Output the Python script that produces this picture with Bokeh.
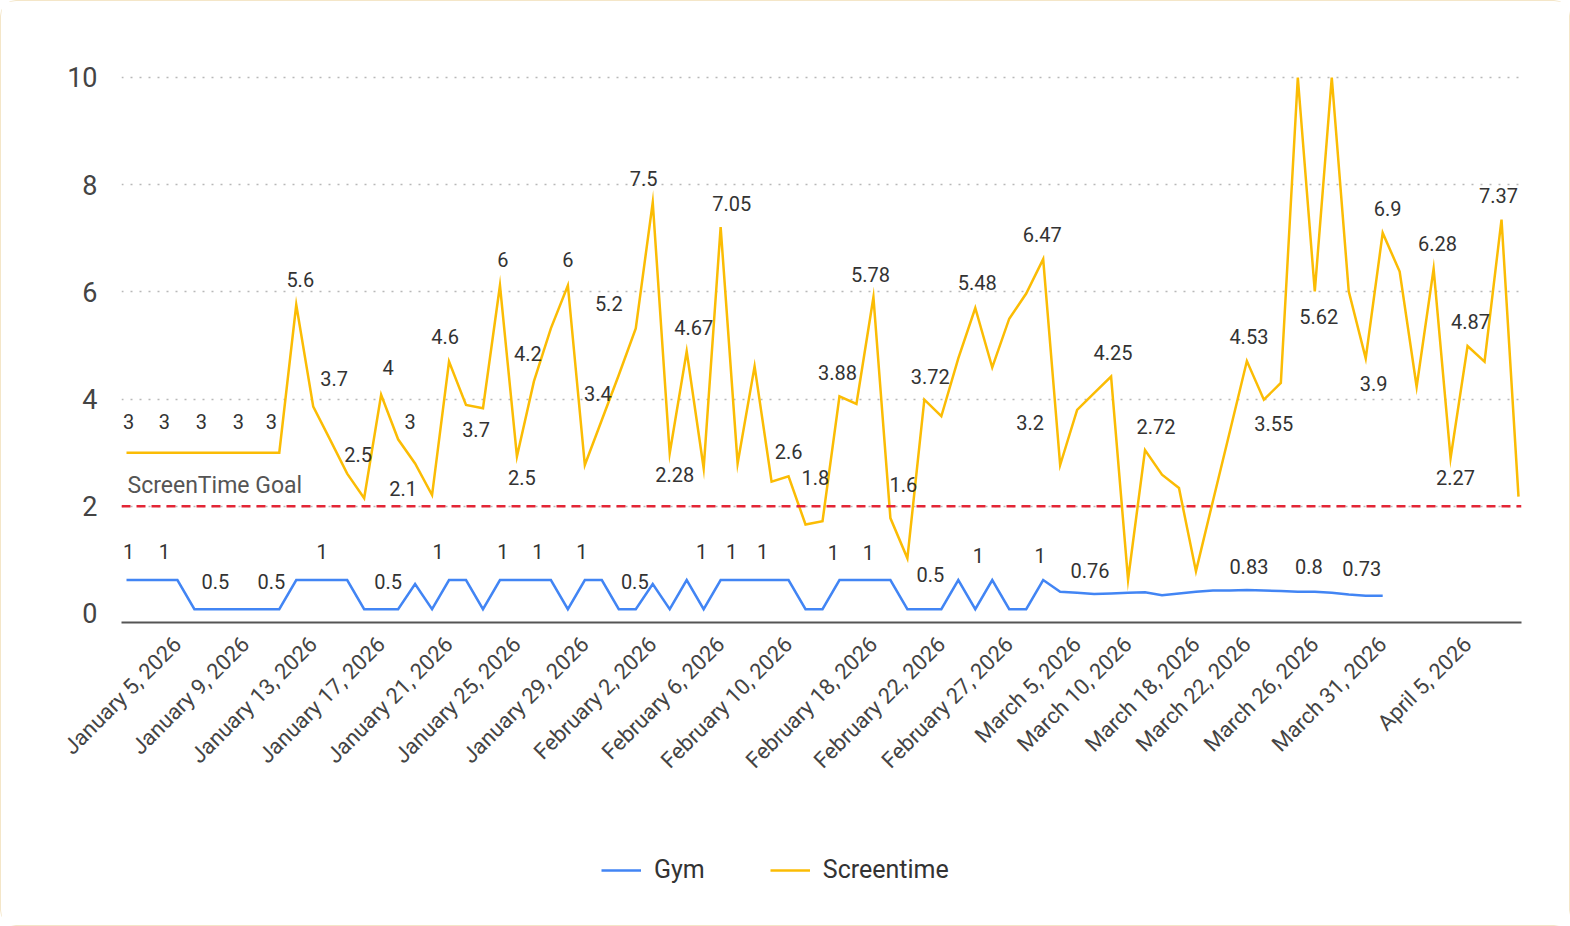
from math import pi, nan
from datetime import datetime
from bokeh.plotting import figure
from bokeh.layouts import column
from bokeh.models import (Range1d, FixedTicker, ColumnDataSource, Span, Label,
                          LabelSet, Legend, LegendItem)
from bokeh.embed import file_html
from bokeh.resources import INLINE
from bokeh.core.properties import value

# ---------------- data ----------------
dates = [
    "2026-01-02", "2026-01-03", "2026-01-04", "2026-01-05", "2026-01-06", "2026-01-07",
    "2026-01-08", "2026-01-09", "2026-01-10", "2026-01-11", "2026-01-12", "2026-01-13",
    "2026-01-14", "2026-01-15", "2026-01-16", "2026-01-17", "2026-01-18", "2026-01-19",
    "2026-01-20", "2026-01-21", "2026-01-22", "2026-01-23", "2026-01-24", "2026-01-25",
    "2026-01-26", "2026-01-27", "2026-01-28", "2026-01-29", "2026-01-30", "2026-01-31",
    "2026-02-01", "2026-02-02", "2026-02-03", "2026-02-04", "2026-02-05", "2026-02-06",
    "2026-02-07", "2026-02-08", "2026-02-09", "2026-02-10", "2026-02-11", "2026-02-12",
    "2026-02-14", "2026-02-16", "2026-02-18", "2026-02-19", "2026-02-20", "2026-02-21",
    "2026-02-22", "2026-02-23", "2026-02-24", "2026-02-26", "2026-02-27", "2026-02-28",
    "2026-03-02", "2026-03-03", "2026-03-05", "2026-03-06", "2026-03-08", "2026-03-10",
    "2026-03-12", "2026-03-14", "2026-03-16", "2026-03-18", "2026-03-19", "2026-03-20",
    "2026-03-22", "2026-03-23", "2026-03-24", "2026-03-25", "2026-03-26", "2026-03-27",
    "2026-03-28", "2026-03-30", "2026-03-31", "2026-04-01", "2026-04-02", "2026-04-03",
    "2026-04-04", "2026-04-05", "2026-04-06", "2026-04-07", "2026-04-08",
]

screentime = [
    3.0, 3.0, 3.0, 3.0, 3.0, 3.0, 3.0, 3.0, 3.0, 3.0,
    5.76, 3.86, 3.24, 2.61, 2.15, 4.08, 3.25, 2.80, 2.21, 4.70,
    3.89, 3.83, 6.12, 2.93, 4.33, 5.32, 6.12, 2.77, 3.61, 4.45,
    5.32, 7.67, 2.99, 4.89, 2.71, 7.21, 2.80, 4.61, 2.46, 2.56,
    1.66, 1.72, 4.05, 3.91, 5.90, 1.78, 1.03, 3.99, 3.68, 4.76,
    5.70, 4.59, 5.50, 5.97, 6.61, 2.77, 3.80, 4.11, 4.42, 0.63,
    3.05, 2.59, 2.34, 0.79, 2.10, 3.40, 4.71, 3.99, 4.30, 10.0,
    6.01, 10.0, 6.01, 4.76, 7.10, 6.38, 4.23, 6.43, 2.90, 4.99,
    4.70, 7.35, 2.18,
]

gym = [
    1, 1, 1, 1, 0.5, 0.5, 0.5, 0.5, 0.5, 0.5,
    1, 1, 1, 1, 0.5, 0.5, 0.5, 0.93, 0.5, 1,
    1, 0.5, 1, 1, 1, 1, 0.5, 1, 1, 0.5,
    0.5, 0.93, 0.5, 1, 0.5, 1, 1, 1, 1, 1,
    0.5, 0.5, 1, 1, 1, 1, 0.5, 0.5, 0.5, 1,
    0.5, 1, 0.5, 0.5, 1, 0.8, 0.78, 0.76, 0.77, 0.78,
    0.79, 0.74, 0.77, 0.8, 0.82, 0.82, 0.83, 0.82, 0.81, 0.8,
    0.8, 0.78, 0.75, 0.73, 0.73,
]

screentime_goal = 2.0

tick_dates = [
    "2026-01-05", "2026-01-09", "2026-01-13", "2026-01-17", "2026-01-21",
    "2026-01-25", "2026-01-29", "2026-02-02", "2026-02-06", "2026-02-10",
    "2026-02-18", "2026-02-22", "2026-02-27", "2026-03-05", "2026-03-10",
    "2026-03-18", "2026-03-22", "2026-03-26", "2026-03-31", "2026-04-05",
]

y_ticks = [0, 2, 4, 6, 8, 10]

# data labels shown on the chart (point index, text)
st_label_idx = [0, 2, 4, 6, 8, 10, 11, 13, 15, 16, 18, 19, 20, 22, 23, 24, 26, 28, 30,
                31, 32, 33, 35, 39, 41, 42, 44, 46, 47, 50, 54, 55, 58, 60, 66, 67,
                69, 70, 71, 73, 74, 77, 78, 79, 81]
st_label_text = ["3", "3", "3", "3", "3", "5.6", "3.7", "2.5", "4", "3", "2.1", "4.6",
                 "3.7", "6", "2.5", "4.2", "6", "3.4", "5.2", "7.5", "2.28", "4.67",
                 "7.05", "2.6", "1.8", "3.88", "5.78", "1.6", "3.72", "5.48", "6.47",
                 "3.2", "4.25", "2.72", "4.53", "3.55", "10", "5.62", "10", "3.9",
                 "6.9", "6.28", "2.27", "4.87", "7.37"]
gym_label_idx = [0, 2, 5, 8, 11, 15, 19, 22, 24, 27, 30, 33, 36, 38, 42, 44, 47, 51,
                 54, 57, 66, 70, 73]
gym_label_text = ["1", "1", "0.5", "0.5", "1", "0.5", "1", "1", "1", "1", "0.5", "1",
                  "1", "1", "1", "1", "0.5", "1", "1", "0.76", "0.83", "0.8", "0.73"]

# label placement (screen px offsets from their point: dx right, dy down)
st_label_dx = [2, 4, 7, 10, 9, 4, 21, 11, 7, 12, -29, -4, 10, 3, 5, -6, 0, -4, -27,
               -9, 5, 7, 11, 0, -7, -2, -3, -4, 6, 2, -1, -30, 2, 11, 2, 10,
               -2, 4, 2, 8, 5, 4, 5, 3, -3]
st_label_dy = [-31, -31, -31, -31, -31, -25, -28, -19, -27, -18, -7, -25, 25, -26, 21,
               -28, -26, -27, -25, -24, 21, -24, -24, -25, -44, -24, -23, -74, -23,
               -25, -25, -43, -24, -24, -25, 24, -24, 25, -24, 25, -24, -25, 19, -25,
               -24]
gym_label_dx = [2, 4, 4, 9, 9, 7, -11, 3, 4, -3, -1, 15, -6, -9, -6, -5, 6, -14, -3,
                -4, 2, -6, -4]
gym_label_dy = [-29, -29, -28, -28, -29, -28, -29, -29, -29, -29, -28, -29, -29, -29,
                -28, -28, -35, -25, -25, -24, -23, -25, -27]

# ---------------- styling ----------------
FONT = "Roboto"
YELLOW = "#fbbc04"
BLUE = "#4285f4"
TEXT = "#333333"
LINE_W = 2.5

idx = list(range(len(dates)))
fmt = lambda d: datetime.strptime(d, "%Y-%m-%d").strftime("%B %-d, %Y")
tick_idx = [dates.index(d) for d in tick_dates]

p = figure(frame_width=1400, frame_height=561, output_backend="svg",
           toolbar_location=None,
           x_range=Range1d(-0.2945, 82.177), y_range=Range1d(-0.168, 10.2985),
           min_border_left=120, min_border_right=48, min_border_top=60,
           min_border_bottom=219)
p.extra_y_ranges = {"gym": Range1d(0.2723, 9.878)}
p.outline_line_color = None
p.background_fill_color = "white"
p.border_fill_color = "white"

# grid
p.xgrid.visible = False
p.ygrid.ticker = FixedTicker(ticks=y_ticks[1:])
p.ygrid.grid_line_color = "#b8b8b8"
p.ygrid.grid_line_dash = "2 7"
p.ygrid.grid_line_width = 1.5

# y axis
p.yaxis.ticker = FixedTicker(ticks=y_ticks)
p.yaxis.axis_line_color = None
p.yaxis.major_tick_line_color = None
p.yaxis.minor_tick_line_color = None
p.yaxis.major_label_text_font = FONT
p.yaxis.major_label_text_font_size = "27px"
p.yaxis.major_label_text_color = "#444444"
p.yaxis.major_label_standoff = 18

# x axis
p.xaxis.ticker = FixedTicker(ticks=tick_idx)
p.xaxis.major_label_overrides = {i: fmt(dates[i]) for i in tick_idx}
p.xaxis.major_label_orientation = pi / 4
p.xaxis.major_label_text_font = FONT
p.xaxis.major_label_text_font_size = "22px"
p.xaxis.major_label_text_color = "#444444"
p.xaxis.axis_line_color = "#555555"
p.xaxis.axis_line_width = 2
p.xaxis.major_tick_line_color = None
p.xaxis.minor_tick_line_color = None
p.xaxis.major_label_standoff = 12

# goal line
p.add_layout(Span(location=screentime_goal, dimension="width", line_color="#e32636",
                  line_dash="9 6", line_width=2.5))
p.add_layout(Label(x=0, y=screentime_goal, text="ScreenTime Goal", x_offset=1,
                   y_offset=21, text_baseline="middle", text_align="left",
                   text_font=FONT, text_font_size="23px", text_color="#555555"))

# series
p.line(idx, screentime, line_color=YELLOW, line_width=LINE_W, line_join="miter")
p.line(idx[:len(gym)], gym, line_color=BLUE, line_width=LINE_W,
       y_range_name="gym", line_join="miter")

# data labels
st_src = ColumnDataSource(dict(
    x=st_label_idx, y=[screentime[i] for i in st_label_idx], text=st_label_text,
    xo=st_label_dx, yo=[-d for d in st_label_dy]))
gym_src = ColumnDataSource(dict(
    x=gym_label_idx, y=[gym[i] for i in gym_label_idx], text=gym_label_text,
    xo=gym_label_dx, yo=[-d for d in gym_label_dy]))
for src, rng in ((st_src, "default"), (gym_src, "gym")):
    p.add_layout(LabelSet(x="x", y="y", text="text", source=src, y_range_name=rng,
                          x_offset="xo", y_offset="yo", text_align="center",
                          text_baseline="middle", text_font=value(FONT),
                          text_font_size="20px", text_color=TEXT))

# legend strip under the chart (key-only renderers hold no visible data)
lf = figure(frame_width=1568, frame_height=84, output_backend="svg",
            toolbar_location=None, x_axis_location=None, y_axis_location=None,
            min_border=0, x_range=Range1d(0, 1), y_range=Range1d(0, 1))
lf.outline_line_color = None
lf.grid.visible = False
lf.border_fill_color = "white"
gym_key = lf.line([nan], [nan], line_color=BLUE, line_width=LINE_W)
st_key = lf.line([nan], [nan], line_color=YELLOW, line_width=LINE_W)
legend = Legend(items=[LegendItem(label="Gym", renderers=[gym_key]),
                       LegendItem(label="Screentime", renderers=[st_key])],
                orientation="horizontal", location=(600, 41),
                glyph_width=40, glyph_height=26, label_standoff=13, spacing=65,
                padding=0, margin=0, border_line_color=None,
                background_fill_alpha=0, label_text_font=FONT,
                label_text_font_size="25px", label_text_color=TEXT)
lf.add_layout(legend)

layout = column(p, lf, spacing=0,
                styles={"border": "1px solid #f4e6c8", "border-radius": "16px",
                        "background": "white"})

open("out.html", "w").write(file_html(layout, INLINE))
